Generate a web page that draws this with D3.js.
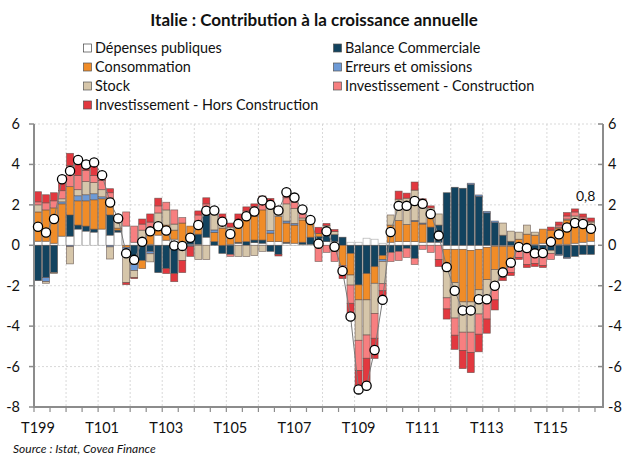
<!DOCTYPE html>
<html><head><meta charset="utf-8">
<script src="https://cdn.jsdelivr.net/npm/d3@7"></script>
<style>
body{margin:0;background:#fff;}
svg{display:block;}
text{font-family:Lato,"Liberation Sans",sans-serif;fill:#111;}
</style>
</head><body>
<svg id="chart" width="625" height="457"></svg>
<script>
// Quarterly data T1 1999 .. T2 2016 (70 quarters)
const nQuarters = 70;
const nSlots = 71;

const depenses = [0.2,0.2,0.1,0.45,0.45,0.8,0.7,0.65,0.8,0.5,0.65,0.95,0.15,0.2,0.05,0.5,0.25,0.3,0.1,0.05,
  0.05,0.4,0,0,0.05,0.1,0,0.13,0.1,0.18,0.18,0.1,0.1,0.05,0.05,0.18,0.18,0.18,0,0.15,
  0.15,0.35,0.3,0.1,0.15,0.18,0.18,0.18,0.15,0.15,0.15,-0.2,-0.2,-0.2,-0.25,-0.2,-0.1,-0.05,-0.05,-0.05,
  0.05,0.05,0.05,0.1,0.05,0.05,0.05,0.1,0.15,0.2];
const balance = [-1.75,-1.6,-1.35,0,1.05,0.2,0.25,0.15,0,1.0,0.1,0,-0.75,-0.75,-0.3,-1.35,-1.15,-1.4,-0.15,0.45,
  0.5,1.4,0.18,-0.4,-0.45,0.05,0.18,0.13,0.16,-0.3,-0.45,0.05,0,0.1,0.35,0.25,0.55,0.35,0.4,-0.4,
  -1.96,-1.4,-1.06,-0.5,-0.35,-0.3,-0.15,-0.65,0,0.75,0.85,2.6,2.87,2.82,3.0,2.42,1.6,1.12,0.5,0.2,
  -0.3,-0.2,-0.45,-0.3,-0.25,-0.45,-0.6,-0.55,-0.45,-0.45];
const consommation = [1.45,1.55,1.75,1.6,1.4,1.2,1.25,1.45,1.5,0.85,0.1,-0.1,-0.2,-0.4,0.5,0.5,0.75,0.45,1.0,0.45,
  0.65,0,0.46,0.85,0.6,1.0,1.27,1.19,1.49,0.42,1.24,0.95,0.9,1.1,0.7,0.16,0,-0.3,-1.0,-1.07,
  -0.74,-1.3,-0.82,-0.2,0.85,1.05,0.85,1.0,0.9,0.5,0,-1.1,-1.65,-2.6,-2.55,-2.0,-1.6,-1.15,-1.2,-0.9,
  0.25,0.5,0.45,0.7,0.7,0.8,1.2,1.2,0.8,0.75];
const erreurs = [0,-0.2,0,0.1,-0.07,0.25,0.3,0.3,0.1,-0.08,0,-0.2,-0.3,0,-0.12,0,0,0,-0.1,-0.05,
  0,0,0.12,0,0,0,0,0,0,0.13,0,0.1,0.08,0,0,0,0,0,0,0,
  0,0,0,-0.1,0,0,0,0.05,0.05,0,0,0,0,0,0.07,0.07,0.08,0.08,0,0,
  0,0,0,0,0,-0.05,-0.05,0,0,0];
const stock = [0.35,-0.08,-0.05,0.15,-0.85,0.3,0.65,0.55,0.35,-0.6,0.35,-1.55,-0.35,0.55,-0.4,0.6,0.75,0.3,-0.5,0,
  -0.7,-0.7,0.94,0.15,0.25,-0.55,-0.55,-0.5,-0.3,1.1,0.36,0.85,0.75,0.1,0.05,0,0.25,0.15,0,-0.5,
  -2.0,-1.74,-1.49,-1.1,0.5,1.05,1.3,1.5,1.1,0.45,0.55,-1.3,-1.75,-1.5,-1.5,-1.2,-1.0,-0.8,0.6,0.5,
  0.35,0.45,0.15,0,-0.15,0.05,0.05,0.15,0.35,0.2];
const construction = [0.15,0.35,0.35,0.4,1.05,0.7,0.55,0.35,0.45,0.25,0.1,0.7,0.8,0.3,0.6,0.35,0.38,0.7,0.27,0,
  0.3,0.25,0,0.25,-0.1,0.05,0.25,0.46,0.36,0.21,0.13,0.3,0.3,0.25,0.05,-0.8,-0.35,-0.5,-0.3,-0.9,
  -1.5,-1.15,-1.23,-0.35,-0.45,-0.45,-0.45,-0.3,-0.2,-0.35,-0.7,-0.55,-0.85,-0.9,-1.0,-1.0,-0.95,-0.7,-0.35,-0.4,
  -0.3,-0.75,-0.45,-0.7,-0.3,0.1,0.15,0.2,0.1,0.05];
const horsConstruction = [0.5,0.4,0.4,0.45,0.6,0.8,0.5,0.5,0.3,0.2,0.05,-0.1,-0.05,0.25,0.4,0.38,-0.25,-0.4,-0.6,-0.5,
  0.2,0.3,0,0.3,0.2,0.35,0.2,0.14,0.33,0.28,-0.08,0.3,0.25,0.15,0.05,0.3,0.1,0.1,-0.35,-0.7,
  -1.04,-1.32,-1.0,-0.5,0,0.4,0.25,0.4,0.1,0.1,-0.35,-0.5,-0.7,-0.9,-1.0,-0.87,-0.7,-0.5,-0.15,-0.15,
  -0.1,-0.15,-0.15,-0.1,0.15,0.15,0.17,0.15,0.15,0.15];
const pib = [0.92,0.63,1.3,3.27,3.68,4.22,4.0,4.1,3.47,2.12,1.33,-0.4,-0.72,0.17,0.69,0.94,0.73,-0.01,-0.03,0.37,
  1.0,1.71,1.72,1.17,0.56,1.06,1.44,1.67,2.22,2.0,1.72,2.62,2.36,1.77,1.25,0.08,0.69,-0.07,-1.27,-3.52,
  -7.13,-6.95,-5.18,-2.7,0.66,1.95,1.95,2.19,2.05,1.55,0.48,-1.08,-2.25,-3.22,-3.22,-2.67,-2.67,-2.0,-1.34,-0.86,
  -0.08,-0.14,-0.4,-0.38,0.17,0.54,0.88,1.1,1.05,0.82];

const seriesNames = ["Dépenses publiques","Balance Commerciale","Consommation","Erreurs et omissions","Stock","Investissement - Construction","Investissement - Hors Construction"];
const seriesColors = ["#ffffff","#12435f","#f08c28","#6d9ad6","#d6c6aa","#f77f80","#e2383f"];
const seriesData = [depenses,balance,consommation,erreurs,stock,construction,horsConstruction];
const yTicks = [-8,-6,-4,-2,0,2,4,6];
const xTickLabels = ["T199","T101","T103","T105","T107","T109","T111","T113","T115"];
const lastLabel = "0,8";

const svg = d3.select("#chart");
const L = 34, R = 603, T = 124, B = 407;

const x = d3.scaleBand().domain(d3.range(nSlots)).range([L, R]).padding(0);
const y = d3.scaleLinear().domain([-8, 6]).range([B, T]);

const keys = seriesNames.map((n, k) => "s" + k);
const rows = d3.range(nQuarters).map(i => {
  const r = {i};
  keys.forEach((k, j) => r[k] = seriesData[j][i]);
  return r;
});
const stacked = d3.stack().keys(keys).offset(d3.stackOffsetDiverging)(rows);

// title
svg.append("text").attr("x", 314).attr("y", 26).attr("text-anchor", "middle")
  .style("font-weight", "bold").style("font-size", "17px").text("Italie : Contribution à la croissance annuelle");

// legend
const legendOrder = [0,2,4,6,1,3,5];
const legendCoords = [[83,53],[83,72],[83,91],[83,110],[333,53],[333,72],[333,91]];
legendOrder.forEach((s, k) => {
  const [lx, ly] = legendCoords[k];
  const g = svg.append("g").attr("transform", `translate(${lx},${ly})`);
  g.append("rect").attr("x", 0.5).attr("y", -9).attr("width", 8).attr("height", 8)
    .attr("fill", seriesColors[s]).attr("stroke", s === 0 ? "#444" : "#555").attr("stroke-width", 0.7);
  g.append("text").attr("x", 12).attr("y", 0).style("font-size", "14.4px").text(seriesNames[s]);
});

// grid
const grid = svg.append("g");
yTicks.filter(v => v > -8).forEach(v => {
  grid.append("line").attr("x1", L).attr("x2", R).attr("y1", y(v)).attr("y2", y(v))
    .attr("stroke", "#cfcfcf").attr("stroke-width", 0.8).attr("stroke-dasharray", "2,2");
});
for (let i = 4; i < nSlots; i += 4) {
  grid.append("line").attr("x1", x(i)).attr("x2", x(i)).attr("y1", T).attr("y2", B)
    .attr("stroke", "#cfcfcf").attr("stroke-width", 0.8).attr("stroke-dasharray", "2,2");
}

// bars
const barG = svg.append("g");
stacked.forEach((layer, j) => {
  barG.append("g").selectAll("rect").data(layer.filter(d => Math.abs(d[1] - d[0]) > 1e-9)).join("rect")
    .attr("x", d => x(d.data.i) + 0.5)
    .attr("width", x.bandwidth() - 1)
    .attr("y", d => y(Math.max(d[0], d[1])))
    .attr("height", d => Math.abs(y(d[0]) - y(d[1])))
    .attr("fill", seriesColors[j])
    .attr("stroke", j === 0 ? "#9a9a9a" : "#5b4b45")
    .attr("stroke-opacity", 0.75)
    .attr("stroke-width", 0.7);
});

// axes
const axisColor = "#8c8c8c";
svg.append("line").attr("x1", L).attr("x2", L).attr("y1", T).attr("y2", B + 1).attr("stroke", axisColor).attr("stroke-width", 2);
svg.append("line").attr("x1", R).attr("x2", R).attr("y1", T).attr("y2", B + 1).attr("stroke", axisColor).attr("stroke-width", 2);
svg.append("line").attr("x1", L - 1).attr("x2", R + 1).attr("y1", B).attr("y2", B).attr("stroke", axisColor).attr("stroke-width", 2);

yTicks.forEach(v => {
  svg.append("line").attr("x1", L - 5).attr("x2", L).attr("y1", y(v)).attr("y2", y(v)).attr("stroke", axisColor).attr("stroke-width", 1.5);
  svg.append("line").attr("x1", R - 5).attr("x2", R).attr("y1", y(v)).attr("y2", y(v)).attr("stroke", axisColor).attr("stroke-width", 1.5);
  svg.append("text").attr("x", 20).attr("y", y(v) + 5).attr("text-anchor", "end").style("font-size", "14.5px").text(v);
  svg.append("text").attr("x", 608).attr("y", y(v) + 5).attr("text-anchor", "start").style("font-size", "14.5px").text(v);
});

for (let i = 0; i < nSlots; i += 2) {
  svg.append("line").attr("x1", x(i)).attr("x2", x(i)).attr("y1", B).attr("y2", B + 5).attr("stroke", axisColor).attr("stroke-width", 1.2);
}
xTickLabels.forEach((lab, k) => {
  const i = k * 8;
  svg.append("text").attr("x", x(i) + x.bandwidth() / 2).attr("y", 433).attr("text-anchor", "middle")
    .style("font-size", "14.5px").text(lab);
});

// GDP line
const line = d3.line().x((d, i) => x(i) + x.bandwidth() / 2).y(d => y(d));
svg.append("path").datum(pib).attr("d", line).attr("fill", "none").attr("stroke", "#7a7a7a").attr("stroke-width", 1);
svg.append("g").selectAll("circle").data(pib).join("circle")
  .attr("cx", (d, i) => x(i) + x.bandwidth() / 2).attr("cy", d => y(d)).attr("r", 4.6)
  .attr("fill", "#fff").attr("stroke", "#000").attr("stroke-width", 1.3);

// last value label
svg.append("text").attr("x", 576).attr("y", 201).style("font-size", "14px").text(lastLabel);

// source
svg.append("text").attr("x", 13).attr("y", 453).style("font-size", "12px").style("font-style", "italic")
  .text("Source : Istat, Covea Finance");
</script>
</body></html>
